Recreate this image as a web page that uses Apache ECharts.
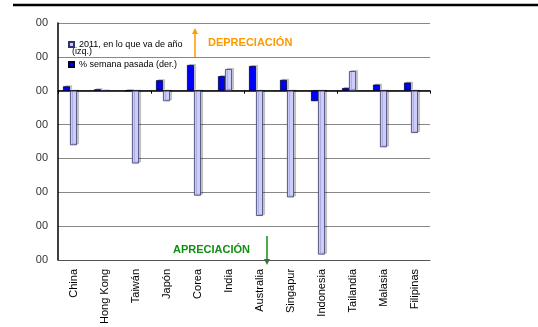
<!DOCTYPE html>
<html>
<head>
<meta charset="utf-8">
<script src="https://cdn.jsdelivr.net/npm/echarts@6/dist/echarts.min.js"></script>
<style>
  html, body { margin: 0; padding: 0; background: #fff; }
  #main { width: 538px; height: 327px; }
</style>
</head>
<body>
<div id="main"></div>
<script>
"use strict";

const countries = ["China", "Hong Kong", "Taiwán", "Japón", "Corea", "India",
  "Australia", "Singapur", "Indonesia", "Tailandia", "Malasia", "Filipinas"];

// 2011, en lo que va de año (izq.)
const ytdValues = [-1.61, -0.02, -2.15, -0.31, -3.10, 0.64, -3.70, -3.15, -4.84, 0.58, -1.67, -1.25];

// % semana pasada (der.)
const weekValues = [0.13, 0.04, 0.0, 0.31, 0.76, 0.43, 0.73, 0.32, -0.31, 0.08, 0.18, 0.24];

const yTickLabel = "00";

let chartDom = document.getElementById("main");
let myChart = echarts.init(chartDom);

const font = "'Liberation Sans', Arial, sans-serif";

let option = {
  animation: false,
  textStyle: { fontFamily: font },
  grid: {
    left: 58,
    right: 108,
    top: 23,
    bottom: 63,
  },
  legend: {
    orient: "vertical",
    left: 63,
    top: 35,
    icon: "rect",
    itemWidth: 5,
    itemHeight: 5,
    itemGap: 11,
    data: ["2011, en lo que va de año", "% semana pasada (der.)"],
    textStyle: { fontSize: 9, color: "#000", fontFamily: font },
  },
  xAxis: [
    {
      type: "category",
      data: countries,
      axisLine: { onZero: false, lineStyle: { color: "#555", width: 1 } },
      axisTick: { show: false },
      axisLabel: {
        rotate: 90,
        margin: 9,
        fontSize: 11,
        color: "#000",
        fontFamily: font,
        interval: 0,
      },
    },
    {
      type: "category",
      data: countries,
      position: "bottom",
      axisLine: { onZero: true, onZeroAxisIndex: 0, lineStyle: { color: "#000", width: 1.5 } },
      axisTick: { show: true, inside: false, length: 3, lineStyle: { color: "#000" } },
      axisLabel: { show: false },
    },
  ],
  yAxis: [
    {
      type: "value",
      min: -5,
      max: 2,
      interval: 1,
      axisLine: { show: true, lineStyle: { color: "#000", width: 1.5 } },
      axisTick: { show: false },
      splitLine: { lineStyle: { color: "#888", width: 1 } },
      axisLabel: {
        margin: 10,
        fontSize: 11,
        color: "#333",
        fontFamily: font,
        formatter: () => yTickLabel,
      },
    },
    {
      type: "value",
      min: -5,
      max: 2,
      interval: 1,
      show: false,
      splitLine: { show: false },
    },
  ],
  series: [
    {
      name: "% semana pasada (der.)",
      type: "bar",
      yAxisIndex: 1,
      data: weekValues,
      barWidth: 7,
      barGap: "0%",
      itemStyle: {
        color: "#0000ff",
        borderColor: "#000033",
        borderWidth: 0.8,
        shadowColor: "rgba(0,0,0,0.2)",
        shadowOffsetX: 2,
        shadowOffsetY: -1,
      },
    },
    {
      name: "2011, en lo que va de año",
      type: "bar",
      yAxisIndex: 0,
      data: ytdValues,
      barWidth: 7,
      barGap: "0%",
      itemStyle: {
        color: "#ccccff",
        borderColor: "#333366",
        borderWidth: 0.8,
        shadowColor: "rgba(0,0,0,0.2)",
        shadowOffsetX: 2,
        shadowOffsetY: -1,
      },
    },
    {
      name: "spacer",
      type: "bar",
      yAxisIndex: 0,
      data: [],
      barWidth: 7,
      barGap: "0%",
    },
  ],
  graphic: [
    {
      type: "line",
      shape: { x1: 13, y1: 5, x2: 538, y2: 5 },
      style: { stroke: "#000", lineWidth: 2.5 },
    },
    {
      type: "text",
      left: 72,
      top: 47,
      style: { text: "(izq.)", fontSize: 9, fill: "#000", fontFamily: font },
    },
    // flecha depreciación
    {
      type: "line",
      shape: { x1: 195, y1: 57, x2: 195, y2: 33 },
      style: { stroke: "#ff9900", lineWidth: 1.5 },
    },
    {
      type: "polygon",
      shape: { points: [[192, 34], [198, 34], [195, 28]] },
      style: { fill: "#ff9900" },
    },
    {
      type: "text",
      left: 208,
      top: 37,
      style: { text: "DEPRECIACIÓN", fontSize: 11, fontWeight: "bold", fill: "#ff9900", fontFamily: font },
    },
    // flecha apreciación
    {
      type: "line",
      shape: { x1: 267, y1: 236, x2: 267, y2: 260 },
      style: { stroke: "#109010", lineWidth: 1.5 },
    },
    {
      type: "polygon",
      shape: { points: [[264, 259], [270, 259], [267, 265]] },
      style: { fill: "#109010" },
    },
    {
      type: "text",
      left: 173,
      top: 244,
      style: { text: "APRECIACIÓN", fontSize: 11, fontWeight: "bold", fill: "#109010", fontFamily: font },
    },
  ],
};

option && myChart.setOption(option);
</script>
</body>
</html>
